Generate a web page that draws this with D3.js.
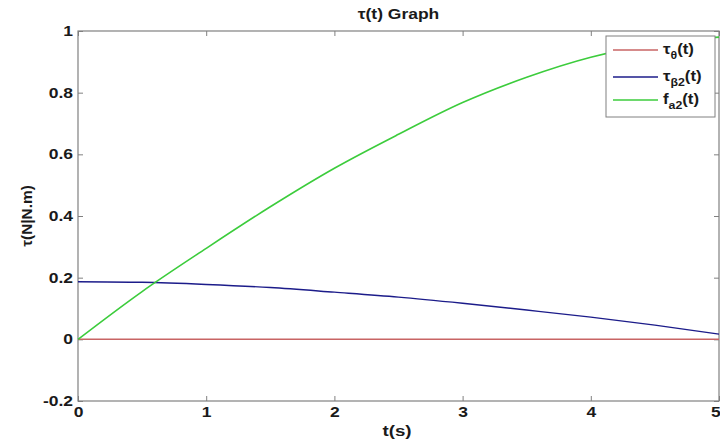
<!DOCTYPE html>
<html><head><meta charset="utf-8">
<script src="https://cdn.jsdelivr.net/npm/d3@7"></script>
<style>body{margin:0;background:#fff}svg{display:block}text{font-family:"Liberation Sans",Arial,sans-serif}</style>
</head><body><svg id="c" width="720" height="444"></svg>
<script>
const times = [0,0.5,1,1.5,2,2.5,3,3.5,4,4.5,5];
const tauTheta = [0,0,0,0,0,0,0,0,0,0,0];
const tauBeta2 = [0.187,0.185,0.178,0.168,0.153,0.137,0.117,0.095,0.072,0.046,0.017];
const fA2 = [0,0.155,0.295,0.43,0.555,0.665,0.768,0.85,0.915,0.958,0.98];
const xTicks = [0,1,2,3,4,5];
const yTicks = [-0.2,0,0.2,0.4,0.6,0.8,1];
const seriesNames = [["τ","θ"],["τ","β2"],["f","a2"]];

const svg = d3.select("#c");
const L=78,R=719,T=31,B=401;
const x = d3.scaleLinear().domain([0,5]).range([L,R]);
const y = d3.scaleLinear().domain([-0.2,1]).range([B,T]);
const axisColor="#808080";
const SX = 1.25;

// frame
svg.append("rect").attr("x",L).attr("y",T).attr("width",R-L).attr("height",B-T)
  .attr("fill","none").attr("stroke",axisColor).attr("stroke-width",1.2);

const fmt = d => d===0?"0":String(d);
const gx = svg.append("g").attr("transform",`translate(0,${B})`)
  .call(d3.axisBottom(x).tickValues(xTicks).tickSize(-5).tickPadding(6).tickFormat(fmt));
const gxt = svg.append("g").attr("transform",`translate(0,${T})`)
  .call(d3.axisTop(x).tickValues(xTicks).tickSize(-5).tickFormat(""));
const gy = svg.append("g").attr("transform",`translate(${L},0)`)
  .call(d3.axisLeft(y).tickValues(yTicks).tickSize(-5).tickPadding(4).tickFormat(fmt));
const gyr = svg.append("g").attr("transform",`translate(${R},0)`)
  .call(d3.axisRight(y).tickValues(yTicks).tickSize(-5).tickFormat(""));
[gx,gxt,gy,gyr].forEach(g=>{
  g.select(".domain").remove();
  g.selectAll(".tick line").attr("stroke",axisColor);
  g.selectAll(".tick text").attr("fill","#1a1a1a").attr("font-size",14).attr("font-weight","bold")
   .attr("font-family","'Liberation Sans',Arial,sans-serif").attr("transform",`scale(${SX},1)`);
});
// last x label sits at the right edge: keep it inside the picture
gx.selectAll(".tick").filter(d=>d===5).select("text").attr("text-anchor","end").attr("x",1);

// lines
const line = vals => d3.line().x((d,i)=>x(times[i])).y(d=>y(d)).curve(d3.curveMonotoneX)(vals);
const series = [
  {vals:tauTheta,color:"#c86464",w:1.5},
  {vals:tauBeta2,color:"#1c1c8a",w:1.4},
  {vals:fA2,color:"#3ccc3c",w:1.6}
];
series.forEach(s=>svg.append("path").attr("d",line(s.vals)).attr("fill","none")
  .attr("stroke",s.color).attr("stroke-width",s.w));

// title and labels
function stretchedText(px,py,str,size,weight,rot){
  const g = svg.append("g").attr("transform",`translate(${px},${py})`+(rot?` rotate(${rot})`:"")+` scale(${SX},1)`);
  return g.append("text").attr("text-anchor","middle").attr("font-size",size)
    .attr("font-weight",weight).attr("fill","#1a1a1a").text(str);
}
stretchedText((L+R)/2,19,"τ(t) Graph",14,"bold");
stretchedText(397,436,"t(s)",15,"bold");
const yl = svg.append("g").attr("transform",`translate(32,${(T+B)/2}) rotate(-90) scale(1.1,1)`);
yl.append("text").attr("text-anchor","middle").attr("font-size",14).attr("font-weight","bold")
  .attr("fill","#1a1a1a").text("τ(N|N.m)");

// legend
const lg = svg.append("g");
lg.append("rect").attr("x",606).attr("y",36).attr("width",109).attr("height",81)
  .attr("fill","#fff").attr("stroke",axisColor).attr("stroke-width",1);
const rowY=[50,77,100];
series.forEach((s,i)=>{
  lg.append("line").attr("x1",613).attr("x2",658).attr("y1",rowY[i]).attr("y2",rowY[i])
    .attr("stroke",s.color).attr("stroke-width",s.w);
  const g = lg.append("g").attr("transform",`translate(663,${rowY[i]+4}) scale(1.12,1)`);
  const t = g.append("text").attr("font-size",15).attr("fill","#1a1a1a").attr("font-weight","bold");
  t.append("tspan").text(seriesNames[i][0]);
  t.append("tspan").attr("dy",5).attr("font-size",11).text(seriesNames[i][1]);
  t.append("tspan").attr("dy",-5).text("(t)");
});
</script></body></html>
